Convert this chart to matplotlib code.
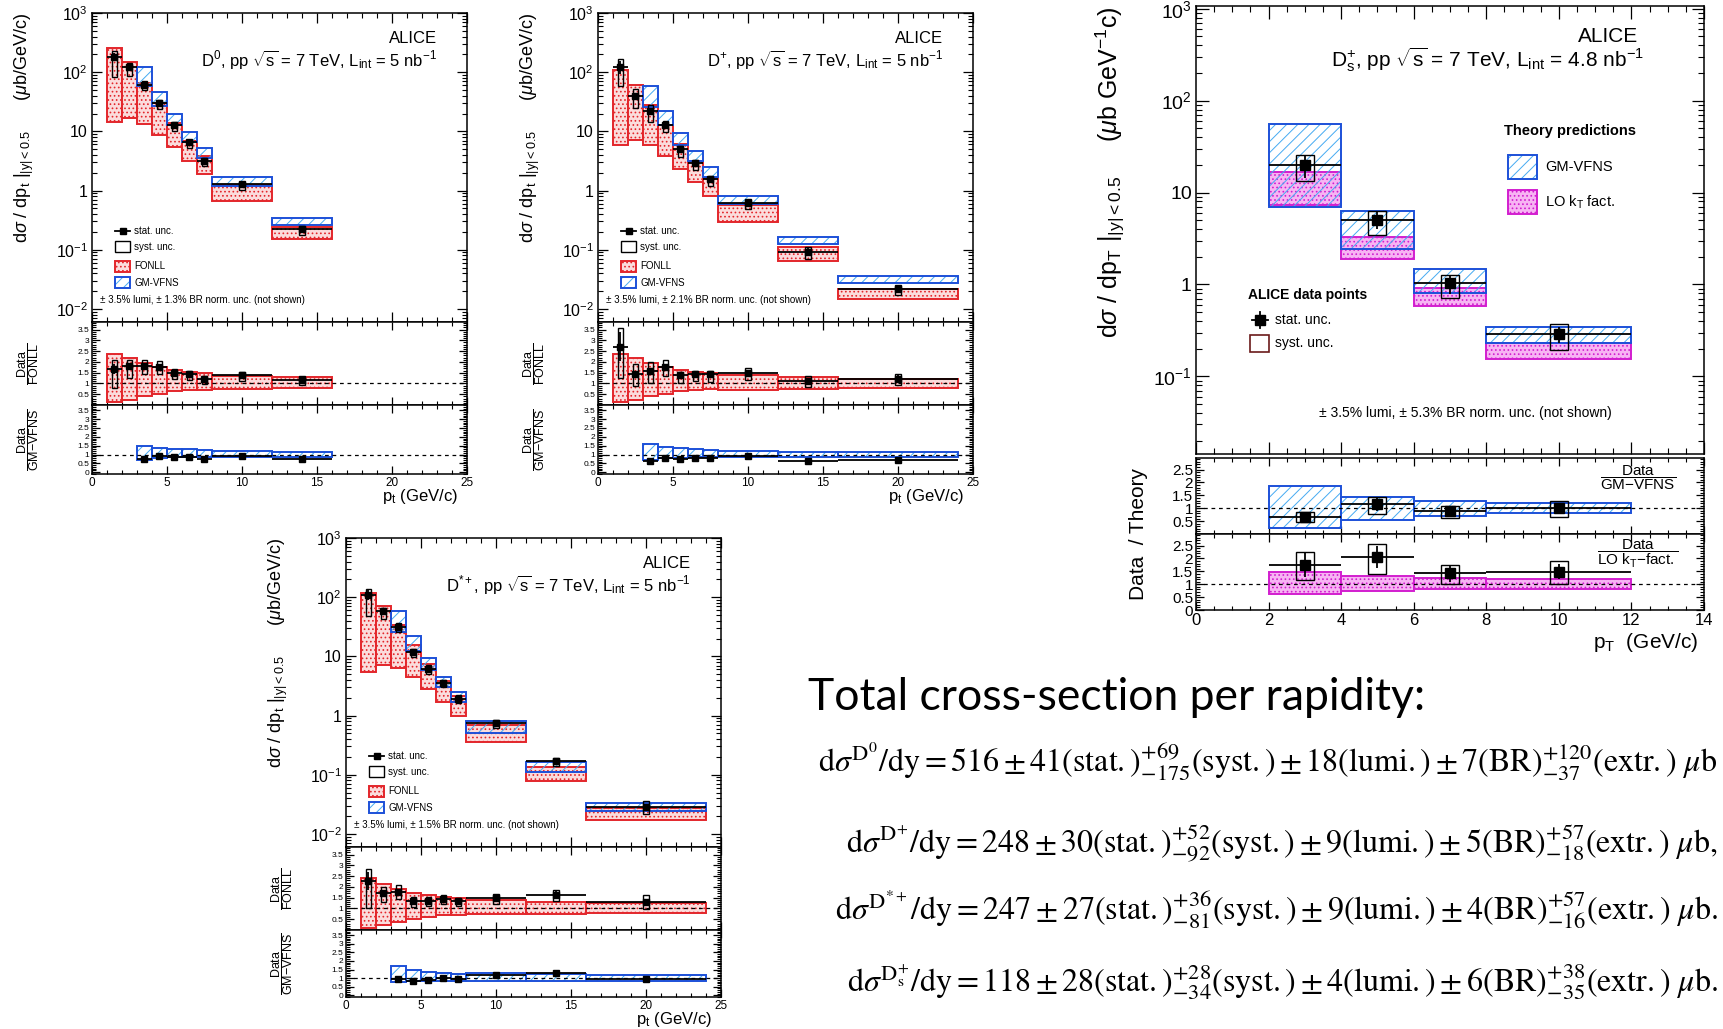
import numpy as np
import matplotlib
matplotlib.use("Agg")
from matplotlib import pyplot as plt, ticker as mticker
from matplotlib.patches import Rectangle

plt.rcParams['font.family'] = ['Liberation Sans', 'DejaVu Sans']
plt.rcParams['mathtext.fontset'] = 'custom'
plt.rcParams['mathtext.rm'] = 'Liberation Sans'
plt.rcParams['mathtext.it'] = 'Liberation Sans:italic'
plt.rcParams['mathtext.bf'] = 'Liberation Sans:bold'
plt.rcParams['hatch.linewidth'] = 0.7
plt.rcParams['axes.linewidth'] = 1.1

nan = np.nan
W, H = 1724, 1029

RED, PINK = '#e3262b', '#fbdcdc'
GM_EDGE, GM_HATCH = '#1c50d8', '#45aaf2'
MAG, MAG_FILL = '#d21ecf', '#f7b4f3'

# ---------------- D0 ----------------
d0_edges = [1, 2, 3, 4, 5, 6, 7, 8, 12, 16]
d0_val = [182, 122, 61.7, 29.8, 12.8, 6.6, 3.18, 1.28, 0.224]
d0_stat = [0.14, 0.08, 0.07, 0.07, 0.08, 0.08, 0.10, 0.08, 0.12]
d0_sup = [0.25, 0.15, 0.14, 0.14, 0.11, 0.10, 0.13, 0.10, 0.13]
d0_sdn = [0.54, 0.30, 0.20, 0.20, 0.20, 0.20, 0.19, 0.19, 0.22]
d0_fonll_c = [108.6, 67.6, 34, 16.7, 8.5, 4.54, 2.65, 0.92, 0.19]
d0_fonll_lo = [14.4, 16.8, 13.5, 8.8, 5.35, 3.1, 1.9, 0.668, 0.15]
d0_fonll_hi = [258, 148, 66, 29.8, 13.8, 6.9, 3.9, 1.25, 0.245]
d0_gm_c = [nan, nan, 81.8, 33.2, 15.0, 7.44, 4.16, 1.39, 0.296]
d0_gm_lo = [nan, nan, 58, 26.9, 12.75, 6.5, 3.5, 1.2, 0.258]
d0_gm_hi = [nan, nan, 121, 45.8, 19.9, 9.6, 5.2, 1.68, 0.34]

# ---------------- D+ ----------------
dp_edges = [1, 2, 3, 4, 5, 6, 7, 8, 12, 16, 24]
dp_val = [124.5, 40, 22.3, 12.7, 5.1, 2.95, 1.58, 0.617, 0.093, 0.0214]
dp_stat = [0.25, 0.10, 0.10, 0.08, 0.08, 0.08, 0.10, 0.10, 0.15, 0.15]
dp_sup = [0.32, 0.32, 0.27, 0.18, 0.10, 0.10, 0.13, 0.17, 0.21, 0.19]
dp_sdn = [0.54, 0.38, 0.36, 0.24, 0.27, 0.24, 0.24, 0.21, 0.25, 0.21]
dp_fonll_c = [45.9, 27.7, 14.3, 7.26, 3.72, 2.04, 1.116, 0.417, 0.085, 0.0179]
dp_fonll_lo = [5.8, 7.06, 5.8, 3.78, 2.33, 1.38, 0.82, 0.297, 0.065, 0.0145]
dp_fonll_hi = [109, 60.7, 27.8, 12.7, 6.05, 3.1, 1.64, 0.58, 0.109, 0.022]
dp_gm_c = [nan, nan, 36.6, 15.6, 7.07, 3.61, 1.99, 0.678, 0.143, 0.0313]
dp_gm_lo = [nan, nan, 26, 12.6, 5.87, 3.14, 1.69, 0.59, 0.124, 0.0272]
dp_gm_hi = [nan, nan, 58.5, 21.9, 9.55, 4.66, 2.49, 0.82, 0.167, 0.036]

# ---------------- D*+ ----------------
dst_edges = [1, 2, 3, 4, 5, 6, 7, 8, 12, 16, 24]
dst_val = [110, 57.6, 31.4, 11.9, 6.2, 3.58, 1.93, 0.74, 0.17, 0.028]
dst_stat = [0.18, 0.08, 0.07, 0.08, 0.08, 0.08, 0.08, 0.08, 0.10, 0.12]
dst_sup = [0.25, 0.16, 0.17, 0.14, 0.14, 0.13, 0.13, 0.14, 0.14, 0.27]
dst_sdn = [0.56, 0.25, 0.18, 0.19, 0.18, 0.16, 0.16, 0.18, 0.18, 0.24]
dst_fonll_c = [48.5, 33.5, 17.7, 8.96, 4.63, 2.5, 1.456, 0.5, 0.104, 0.0218]
dst_fonll_lo = [5.5, 7.2, 6.3, 4.4, 2.8, 1.69, 1.0, 0.363, 0.079, 0.0174]
dst_fonll_hi = [117, 72, 34, 15.5, 7.5, 3.83, 2.14, 0.69, 0.135, 0.027]
dst_gm_c = [nan, nan, 33.9, 14.8, 6.8, 3.55, 2.02, 0.625, 0.133, 0.0287]
dst_gm_lo = [nan, nan, 25.3, 12.3, 5.78, 3.02, 1.72, 0.506, 0.113, 0.0244]
dst_gm_hi = [nan, nan, 57.6, 22, 9.4, 4.54, 2.45, 0.8, 0.164, 0.0336]

# ---------------- Ds+ ----------------
ds_edges = [2, 4, 6, 8, 12]
ds_val = [20, 5.06, 1.03, 0.287]
ds_stat = [0.28, 0.21, 0.23, 0.20]
ds_sup = [0.28, 0.25, 0.24, 0.29]
ds_sdn = [0.34, 0.31, 0.30, 0.33]
ds_gm_c = [29.5, 4.39, 1.155, 0.285]
ds_gm_lo = [6.93, 2.45, 0.81, 0.23]
ds_gm_hi = [55.4, 6.28, 1.49, 0.348]
ds_lo_c = [11.4, 2.48, 0.724, 0.193]
ds_lo_lo = [7.24, 1.87, 0.588, 0.154]
ds_lo_hi = [16.6, 3.28, 0.905, 0.23]

# ---------------- total cross sections ----------------
xs_meson = [r'\mathrm{D}^{0}', r'\mathrm{D}^{+}', r'\mathrm{D}^{*+}', r'\mathrm{D}_{\mathrm{s}}^{+}']
xs_val = [516, 248, 247, 118]
xs_stat = [41, 30, 27, 28]
xs_syst = [('69', '175'), ('52', '92'), ('36', '81'), ('28', '34')]
xs_lumi = [18, 9, 9, 4]
xs_br = [7, 5, 4, 6]
xs_extr = [('120', '37'), ('57', '18'), ('57', '16'), ('38', '35')]
xs_end = ['', ',', '.', '.']
xs_ypix = [762, 844, 910, 982]


fig = plt.figure(figsize=(W / 100, H / 100), dpi=100)


def add_ax(x0, y0, x1, y1):
    return fig.add_axes([x0 / W, 1 - y1 / H, (x1 - x0) / W, (y1 - y0) / H])


def log_label(v, pos):
    if np.isclose(v, 1):
        return '1'
    if np.isclose(v, 10):
        return '10'
    return r'$10^{%d}$' % round(np.log10(v))


def style(ax, mlen=7):
    ax.tick_params(which='both', direction='in', top=True, right=True)
    ax.tick_params(which='major', length=mlen, width=0.9, pad=3)
    ax.tick_params(which='minor', length=mlen / 2, width=0.8)


def setup_log(ax):
    ax.set_yscale('log')
    ax.yaxis.set_major_locator(mticker.LogLocator(base=10, numticks=20))
    ax.yaxis.set_minor_locator(mticker.LogLocator(base=10, subs=np.arange(2, 10), numticks=20))
    ax.yaxis.set_major_formatter(mticker.FuncFormatter(log_label))
    ax.yaxis.set_minor_formatter(mticker.NullFormatter())


def band(ax, edges, lo, hi, kind):
    e = np.asarray(edges, float)
    lo = np.asarray(lo, float)
    hi = np.asarray(hi, float)
    ok = ~np.isnan(lo)
    x = (0.5 * (e[1:] + e[:-1]))[ok]
    w = np.diff(e)[ok]
    lo, hi = lo[ok], hi[ok]
    if kind == 'gm':
        ax.bar(x, hi - lo, bottom=lo, width=w, color='none', edgecolor=GM_HATCH,
               hatch='///', lw=0, zorder=3)
        ax.bar(x, hi - lo, bottom=lo, width=w, color='none', edgecolor=GM_EDGE,
               lw=1.4, zorder=3)
    else:
        fill, edge = (PINK, RED) if kind == 'fonll' else (MAG_FILL, MAG)
        ax.bar(x, hi - lo, bottom=lo, width=w, color=fill, edgecolor=edge,
               hatch='....', lw=1.4, zorder=2)


def data(ax, edges, val, stat, sup, sdn, norm=None, boxes=True, bw=0.36, ms=4.5):
    e = np.asarray(edges, float)
    x = 0.5 * (e[1:] + e[:-1])
    xe = 0.5 * np.diff(e)
    v = np.asarray(val, float)
    n = np.ones_like(v) if norm is None else np.asarray(norm, float)
    ok = ~np.isnan(n)
    x, xe, v, n = x[ok], xe[ok], v[ok], n[ok]
    st = np.asarray(stat)[ok]
    if boxes:
        top = v * (1 + np.asarray(sup)[ok]) / n
        bot = v * (1 - np.asarray(sdn)[ok]) / n
        ax.bar(x, top - bot, bottom=bot, width=bw, color='none', edgecolor='k',
               lw=1.0, zorder=5)
    ax.errorbar(x, v / n, yerr=v * st / n, xerr=xe, fmt='s', color='k', ms=ms,
                lw=1.3, capsize=0, zorder=6)


def ratio_axis(ax, ylim, ticks, xmax, xmaj, xmin, ylab_size, xlab_size, show_x):
    ax.set_xlim(0, xmax)
    ax.set_ylim(*ylim)
    ax.axhline(1, color='k', ls=(0, (3, 3)), lw=0.9, zorder=4)
    ax.yaxis.set_major_locator(mticker.FixedLocator(ticks))
    ax.yaxis.set_minor_locator(mticker.MultipleLocator(0.1))
    ax.yaxis.set_major_formatter(mticker.FormatStrFormatter('%g'))
    ax.xaxis.set_major_locator(mticker.MultipleLocator(xmaj))
    ax.xaxis.set_minor_locator(mticker.MultipleLocator(xmin))
    style(ax, 6)
    ax.tick_params(axis='y', labelsize=ylab_size, pad=2)
    ax.tick_params(axis='x', labelsize=xlab_size, labelbottom=show_x, pad=2)


def d_panel(boxes, edges, val, stat, sup, sdn, fc, flo, fhi, gc, glo, ghi,
            title, norm_txt):
    ax = add_ax(*boxes[0])
    r1 = add_ax(*boxes[1])
    r2 = add_ax(*boxes[2])

    band(ax, edges, flo, fhi, 'fonll')
    band(ax, edges, glo, ghi, 'gm')
    data(ax, edges, val, stat, sup, sdn)
    ax.set_xlim(0, 25)
    ax.set_ylim(0.006, 1000)
    setup_log(ax)
    ax.xaxis.set_major_locator(mticker.MultipleLocator(5))
    ax.xaxis.set_minor_locator(mticker.MultipleLocator(1))
    style(ax)
    ax.tick_params(axis='y', labelsize=11.5)
    ax.tick_params(axis='x', labelbottom=False)
    ax.text(-0.18, 1.0, r'd$\sigma$ / dp$_{\mathrm{t}}$ |$_{\mathrm{|y|<0.5}}$      ($\mu$b/GeV/c)',
            rotation=90, ha='center', va='top', fontsize=13, transform=ax.transAxes)
    ax.text(0.92, 0.916, 'ALICE', ha='right', va='center', fontsize=12, transform=ax.transAxes)
    ax.text(0.92, 0.848, title, ha='right', va='center', fontsize=12, transform=ax.transAxes)

    # legend
    tr = ax.transAxes
    xs, xe, xt, h = 0.062, 0.102, 0.113, 0.036
    rows = [0.295, 0.243, 0.181, 0.127]
    ax.plot([xs, xe], [rows[0], rows[0]], color='k', lw=1.3, transform=tr)
    ax.plot([(xs + xe) / 2], [rows[0]], 's', color='k', ms=4.5, transform=tr)
    ax.add_patch(Rectangle((xs, rows[1] - h / 2), xe - xs, h, transform=tr,
                           fill=False, ec='k', lw=1.0))
    ax.add_patch(Rectangle((xs, rows[2] - h / 2), xe - xs, h, transform=tr,
                           fc=PINK, ec=RED, hatch='....', lw=1.4))
    ax.add_patch(Rectangle((xs, rows[3] - h / 2), xe - xs, h, transform=tr,
                           fc='none', ec=GM_HATCH, hatch='///', lw=0))
    ax.add_patch(Rectangle((xs, rows[3] - h / 2), xe - xs, h, transform=tr,
                           fill=False, ec=GM_EDGE, lw=1.4))
    for y, t in zip(rows, ['stat. unc.', 'syst. unc.', 'FONLL', 'GM-VFNS']):
        ax.text(xt, y, t, transform=tr, fontsize=7, va='center')
    ax.text(0.022, 0.071, norm_txt, transform=tr, fontsize=7, va='center')

    fc = np.asarray(fc, float)
    gc = np.asarray(gc, float)
    band(r1, edges, np.asarray(flo) / fc, np.asarray(fhi) / fc, 'fonll')
    data(r1, edges, val, stat, sup, sdn, norm=fc)
    ratio_axis(r1, (0.0, 3.85), [0.5, 1, 1.5, 2, 2.5, 3, 3.5], 25, 5, 1, 6, 8.5, False)
    r1.text(-0.17, 0.5, r'$\dfrac{\mathrm{Data}}{\mathrm{FONLL}}$', rotation=90,
            ha='center', va='center', fontsize=9, transform=r1.transAxes)

    band(r2, edges, np.asarray(glo) / gc, np.asarray(ghi) / gc, 'gm')
    data(r2, edges, val, stat, sup, sdn, norm=gc, boxes=False)
    ratio_axis(r2, (-0.1, 3.8), [0, 0.5, 1, 1.5, 2, 2.5, 3, 3.5], 25, 5, 1, 6, 8.5, True)
    r2.text(-0.17, 0.5, r'$\dfrac{\mathrm{Data}}{\mathrm{GM{-}VFNS}}$', rotation=90,
            ha='center', va='center', fontsize=9, transform=r2.transAxes)
    r2.text(0.975, -0.33, r'p$_{\mathrm{t}}$ (GeV/c)', ha='right', va='center',
            fontsize=12, transform=r2.transAxes)


d_panel([(92, 13, 467, 322), (92, 322, 467, 405), (92, 405, 467, 474)],
        d0_edges, d0_val, d0_stat, d0_sup, d0_sdn,
        d0_fonll_c, d0_fonll_lo, d0_fonll_hi, d0_gm_c, d0_gm_lo, d0_gm_hi,
        r'D$^{0}$, pp $\sqrt{\mathrm{s}}$ = 7 TeV, L$_{\mathrm{int}}$ = 5 nb$^{-1}$',
        '± 3.5% lumi, ± 1.3% BR norm. unc. (not shown)')
d_panel([(598, 13, 973, 322), (598, 322, 973, 405), (598, 405, 973, 474)],
        dp_edges, dp_val, dp_stat, dp_sup, dp_sdn,
        dp_fonll_c, dp_fonll_lo, dp_fonll_hi, dp_gm_c, dp_gm_lo, dp_gm_hi,
        r'D$^{+}$, pp $\sqrt{\mathrm{s}}$ = 7 TeV, L$_{\mathrm{int}}$ = 5 nb$^{-1}$',
        '± 3.5% lumi, ± 2.1% BR norm. unc. (not shown)')
d_panel([(346, 538, 721, 847), (346, 847, 721, 930), (346, 930, 721, 997)],
        dst_edges, dst_val, dst_stat, dst_sup, dst_sdn,
        dst_fonll_c, dst_fonll_lo, dst_fonll_hi, dst_gm_c, dst_gm_lo, dst_gm_hi,
        r'D$^{*+}$, pp $\sqrt{\mathrm{s}}$ = 7 TeV, L$_{\mathrm{int}}$ = 5 nb$^{-1}$',
        '± 3.5% lumi, ± 1.5% BR norm. unc. (not shown)')

# ---------------- Ds panel ----------------
ax = add_ax(1196, 6, 1704, 454)
r1 = add_ax(1196, 458, 1704, 534)
r2 = add_ax(1196, 534, 1704, 610)

band(ax, ds_edges, ds_lo_lo, ds_lo_hi, 'lokt')
band(ax, ds_edges, ds_gm_lo, ds_gm_hi, 'gm')
data(ax, ds_edges, ds_val, ds_stat, ds_sup, ds_sdn, bw=0.5, ms=7)
ax.set_xlim(0, 14)
ax.set_ylim(0.0143, 1070)
setup_log(ax)
ax.xaxis.set_major_locator(mticker.MultipleLocator(2))
ax.xaxis.set_minor_locator(mticker.MultipleLocator(0.5))
style(ax, 9)
ax.tick_params(axis='y', labelsize=14)
ax.tick_params(axis='x', labelbottom=False)
ax.text(-0.169, 1.0, r'd$\sigma$ / dp$_{\mathrm{T}}$ |$_{\mathrm{|y|<0.5}}$     ($\mu$b GeV$^{-1}$c)',
        rotation=90, ha='center', va='top', fontsize=18, transform=ax.transAxes)
ax.text(0.871, 0.932, 'ALICE', ha='right', va='center', fontsize=15, transform=ax.transAxes)
ax.text(0.882, 0.881,
        r'D$_{\mathrm{s}}^{+}$, pp $\sqrt{\mathrm{s}}$ = 7 TeV, L$_{\mathrm{int}}$ = 4.8 nb$^{-1}$',
        ha='right', va='center', fontsize=15, transform=ax.transAxes)

tr = ax.transAxes
ax.text(0.606, 0.72, 'Theory predictions', fontsize=10.5, fontweight='bold',
        va='center', transform=tr)
ax.add_patch(Rectangle((0.614, 0.613), 0.057, 0.054, transform=tr, fc='none',
                       ec=GM_HATCH, hatch='///', lw=0))
ax.add_patch(Rectangle((0.614, 0.613), 0.057, 0.054, transform=tr, fill=False,
                       ec=GM_EDGE, lw=1.4))
ax.text(0.687, 0.64, 'GM-VFNS', fontsize=10.5, va='center', transform=tr)
ax.add_patch(Rectangle((0.614, 0.535), 0.057, 0.054, transform=tr, fc=MAG_FILL,
                       ec=MAG, hatch='....', lw=1.4))
ax.text(0.687, 0.562, r'LO k$_{\mathrm{T}}$ fact.', fontsize=10.5, va='center', transform=tr)
ax.text(0.102, 0.355, 'ALICE data points', fontsize=10, fontweight='bold',
        va='center', transform=tr)
ax.plot([0.110, 0.142], [0.299, 0.299], color='k', lw=1.3, transform=tr)
ax.plot([0.126, 0.126], [0.282, 0.316], color='k', lw=1.3, transform=tr)
ax.plot([0.126], [0.299], 's', color='k', ms=7, transform=tr)
ax.add_patch(Rectangle((0.106, 0.228), 0.038, 0.038, transform=tr, fill=False,
                       ec='#6b1a1a', lw=1.2))
ax.text(0.156, 0.299, 'stat. unc.', fontsize=10, va='center', transform=tr)
ax.text(0.156, 0.247, 'syst. unc.', fontsize=10, va='center', transform=tr)
ax.text(0.53, 0.091, '± 3.5% lumi, ± 5.3% BR norm. unc. (not shown)', fontsize=10,
        ha='center', va='center', transform=tr)

gc = np.asarray(ds_gm_c)
lc = np.asarray(ds_lo_c)
band(r1, ds_edges, np.asarray(ds_gm_lo) / gc, np.asarray(ds_gm_hi) / gc, 'gm')
data(r1, ds_edges, ds_val, ds_stat, ds_sup, ds_sdn, norm=gc, bw=0.5, ms=7)
ratio_axis(r1, (0.0, 2.95), [0.5, 1, 1.5, 2, 2.5], 14, 2, 0.5, 11, 12, False)
r1.text(0.87, 0.74, r'$\dfrac{\mathrm{Data}}{\mathrm{GM{-}VFNS}}$', ha='center',
        va='center', fontsize=11, transform=r1.transAxes)

band(r2, ds_edges, np.asarray(ds_lo_lo) / lc, np.asarray(ds_lo_hi) / lc, 'lokt')
data(r2, ds_edges, ds_val, ds_stat, ds_sup, ds_sdn, norm=lc, bw=0.5, ms=7)
ratio_axis(r2, (0.0, 2.95), [0, 0.5, 1, 1.5, 2, 2.5], 14, 2, 0.5, 11, 12, True)
r2.text(0.87, 0.74, r'$\dfrac{\mathrm{Data}}{\mathrm{LO\ k_{T}{-}fact.}}$', ha='center',
        va='center', fontsize=11, transform=r2.transAxes)
r2.text(-0.114, 1.0, 'Data  / Theory', rotation=90, ha='center', va='center',
        fontsize=15, transform=r2.transAxes)
r2.text(0.99, -0.43, r'p$_{\mathrm{T}}$  (GeV/c)', ha='right', va='center',
        fontsize=15, transform=r2.transAxes)

# ---------------- cross-section text ----------------
fig.text(808 / W, 1 - 710 / H, 'Total cross-section per rapidity:', family='Lato',
         fontsize=32, va='baseline')
for m, v, s, sy, lu, br, ex, end, yp in zip(xs_meson, xs_val, xs_stat, xs_syst, xs_lumi,
                                            xs_br, xs_extr, xs_end, xs_ypix):
    f = (r'$\mathrm{d}\sigma^{%s}/\mathrm{dy} = %d \pm %d(\mathrm{stat.})^{+%s}_{-%s}'
         r'(\mathrm{syst.}) \pm %d(\mathrm{lumi.}) \pm %d(\mathrm{BR})^{+%s}_{-%s}'
         r'(\mathrm{extr.})\ \mu\mathrm{b}%s$' % (m, v, s, sy[0], sy[1], lu, br, ex[0], ex[1], end))
    fig.text(1718 / W, 1 - yp / H, f, ha='right', va='center', fontsize=23,
             math_fontfamily='stix')

fig.savefig('out.png', dpi=100)
